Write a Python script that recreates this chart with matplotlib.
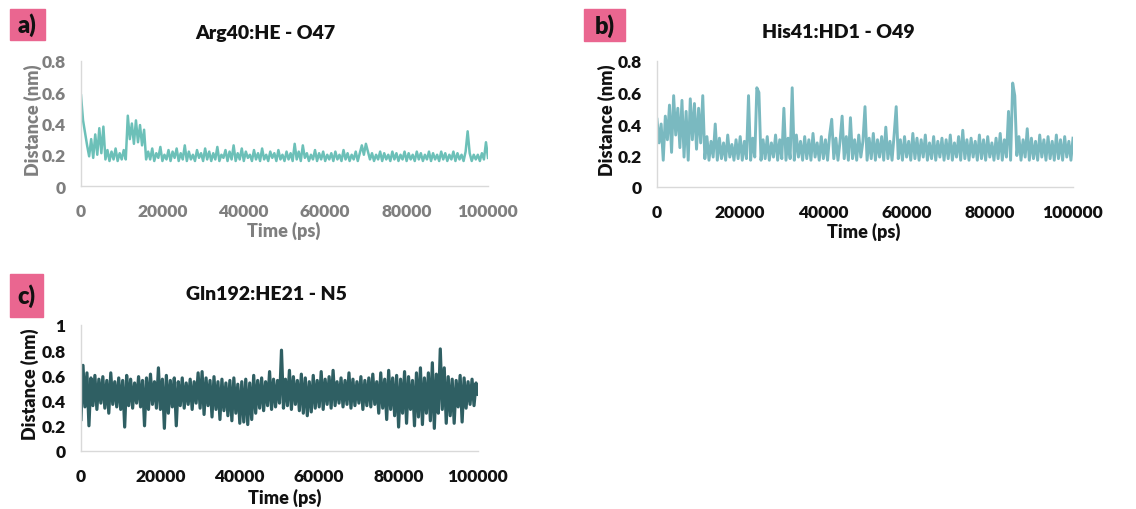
import numpy as np
import matplotlib
matplotlib.use("Agg")
import matplotlib.pyplot as plt
from matplotlib.patches import Rectangle

plt.rcParams['font.family'] = ['Lato', 'DejaVu Sans']

# time axis (ps), one sample every 500 ps
time_ps = np.linspace(0, 100000, 201)

# a) Arg40:HE - O47 distance (nm)
arg40_he_o47 = [
    0.58, 0.42, 0.34, 0.26, 0.19, 0.30, 0.18, 0.33, 0.20, 0.37,
    0.21, 0.38, 0.17, 0.23, 0.16, 0.22, 0.17, 0.24, 0.16, 0.21,
    0.17, 0.23, 0.17, 0.45, 0.30, 0.40, 0.27, 0.42, 0.28, 0.39,
    0.26, 0.36, 0.17,
    0.22, 0.17, 0.24, 0.16, 0.21, 0.18, 0.25, 0.16, 0.20, 0.17,
    0.23, 0.16, 0.22, 0.18, 0.24, 0.16, 0.21, 0.17, 0.26, 0.16,
    0.22, 0.17, 0.20, 0.16, 0.23, 0.18, 0.21, 0.16, 0.24, 0.17,
    0.22, 0.16, 0.21, 0.17, 0.25, 0.16, 0.20, 0.18, 0.23, 0.16,
    0.22, 0.17, 0.26, 0.16, 0.21, 0.17, 0.24, 0.16, 0.22, 0.18,
    0.20, 0.16, 0.23, 0.17, 0.21, 0.16, 0.24, 0.17, 0.20, 0.16,
    0.22, 0.18, 0.21, 0.16, 0.23, 0.17, 0.20, 0.16, 0.22, 0.17,
    0.21, 0.16, 0.27, 0.17, 0.22, 0.16, 0.26, 0.18, 0.21, 0.16,
    0.20, 0.17, 0.23, 0.16, 0.21, 0.17, 0.22, 0.16, 0.20, 0.17,
    0.21, 0.16, 0.22, 0.17, 0.20, 0.16, 0.23, 0.17, 0.21, 0.16,
    0.20, 0.17, 0.22, 0.16, 0.21, 0.26, 0.20, 0.27, 0.22, 0.17,
    0.21, 0.16, 0.20, 0.17, 0.22, 0.16, 0.21, 0.17, 0.20, 0.16,
    0.22, 0.17, 0.21, 0.16, 0.20, 0.17, 0.22, 0.16, 0.21, 0.17,
    0.20, 0.16, 0.22, 0.17, 0.21, 0.16, 0.20, 0.17, 0.22, 0.16,
    0.21, 0.17, 0.20, 0.16, 0.22, 0.17, 0.21, 0.16, 0.20, 0.17,
    0.22, 0.16, 0.21, 0.17, 0.20, 0.16, 0.22, 0.35, 0.21, 0.16,
    0.20, 0.17, 0.20, 0.16, 0.21, 0.17, 0.28, 0.18,
]

# b) His41:HD1 - O49 distance (nm)
his41_hd1_o49 = [
    0.43, 0.28, 0.40, 0.17,
    0.45, 0.30, 0.52, 0.22, 0.58, 0.33, 0.50, 0.25, 0.55, 0.19,
    0.48, 0.17, 0.56, 0.30, 0.53, 0.24, 0.50, 0.28, 0.58,
    0.18, 0.32, 0.17, 0.29, 0.19, 0.40, 0.17, 0.31, 0.18, 0.28,
    0.17, 0.33, 0.19, 0.27, 0.17, 0.30, 0.18, 0.32, 0.17, 0.29,
    0.18, 0.58, 0.17, 0.31, 0.19, 0.63, 0.60, 0.17, 0.30, 0.18,
    0.32, 0.17, 0.28, 0.19, 0.33, 0.17, 0.30, 0.18, 0.50, 0.17,
    0.31, 0.18, 0.63, 0.17, 0.33, 0.19, 0.29, 0.17, 0.32, 0.18,
    0.30, 0.17, 0.34, 0.19, 0.28, 0.17, 0.32, 0.18, 0.30, 0.17,
    0.33, 0.43, 0.18, 0.31, 0.17, 0.29, 0.45, 0.18, 0.32, 0.17,
    0.44, 0.18, 0.30, 0.17, 0.33, 0.19, 0.29, 0.51, 0.17, 0.31,
    0.18, 0.34, 0.17, 0.30, 0.19, 0.32, 0.17, 0.38, 0.18, 0.29,
    0.17, 0.33, 0.51, 0.18, 0.30, 0.17, 0.32, 0.19, 0.29, 0.17,
    0.34, 0.18, 0.31, 0.17, 0.30, 0.19, 0.33, 0.17, 0.28, 0.18,
    0.32, 0.17, 0.29, 0.19, 0.31, 0.17, 0.30, 0.18, 0.33, 0.17,
    0.28, 0.19, 0.32, 0.17, 0.36, 0.18, 0.30, 0.17, 0.31, 0.19,
    0.29, 0.17, 0.33, 0.18, 0.30, 0.17, 0.32, 0.19, 0.28, 0.17,
    0.31, 0.18, 0.34, 0.17, 0.30, 0.19, 0.48, 0.17, 0.66, 0.58,
    0.20, 0.32, 0.17, 0.30, 0.19, 0.37, 0.17, 0.31, 0.18, 0.29,
    0.17, 0.33, 0.19, 0.30, 0.17, 0.32, 0.18, 0.29, 0.17, 0.33,
    0.18, 0.30, 0.17, 0.32, 0.19, 0.29, 0.17, 0.31,
]

# c) Gln192:HE21 - N5 distance (nm)
gln192_he21_n5 = [
    0.25, 0.68, 0.35, 0.62, 0.20, 0.58, 0.36, 0.60, 0.33, 0.57,
    0.38, 0.59, 0.34, 0.56, 0.30, 0.62, 0.37, 0.55, 0.35, 0.58,
    0.33, 0.56, 0.19, 0.60, 0.36, 0.57, 0.34, 0.54, 0.38, 0.59,
    0.35, 0.56, 0.20, 0.58, 0.33, 0.61, 0.37, 0.55, 0.34, 0.66,
    0.33, 0.57, 0.18, 0.60, 0.30, 0.56, 0.35, 0.58, 0.20, 0.55,
    0.36, 0.58, 0.34, 0.54, 0.37, 0.57, 0.33, 0.55, 0.38, 0.62,
    0.34, 0.63, 0.29, 0.58, 0.36, 0.56, 0.27, 0.59, 0.33, 0.55,
    0.25, 0.57, 0.32, 0.54, 0.28, 0.56, 0.24, 0.58, 0.30, 0.53,
    0.22, 0.55, 0.23, 0.57, 0.21, 0.54, 0.25, 0.60, 0.30, 0.56,
    0.34, 0.58, 0.32, 0.55, 0.36, 0.63, 0.33, 0.57, 0.35, 0.56,
    0.38, 0.80, 0.34, 0.57, 0.36, 0.64, 0.33, 0.59, 0.37, 0.56,
    0.32, 0.61, 0.30, 0.58, 0.28, 0.55, 0.31, 0.60, 0.34, 0.56,
    0.35, 0.63, 0.33, 0.57, 0.37, 0.59, 0.34, 0.64, 0.36, 0.55,
    0.38, 0.58, 0.35, 0.56, 0.37, 0.62, 0.34, 0.57, 0.36, 0.55,
    0.38, 0.59, 0.33, 0.56, 0.36, 0.58, 0.35, 0.61, 0.37, 0.55,
    0.30, 0.62, 0.34, 0.57, 0.25, 0.64, 0.33, 0.58, 0.28, 0.60,
    0.19, 0.57, 0.30, 0.63, 0.22, 0.59, 0.33, 0.56, 0.20, 0.62,
    0.27, 0.66, 0.21, 0.58, 0.30, 0.62, 0.24, 0.70, 0.18, 0.61,
    0.30, 0.81, 0.33, 0.66, 0.22, 0.59, 0.28, 0.57, 0.22, 0.56,
    0.35, 0.60, 0.23, 0.58, 0.34, 0.55, 0.37, 0.57, 0.36, 0.54,
    0.45,
]

x_ticks = [0, 20000, 40000, 60000, 80000, 100000]
W, H = 1136, 510
fig = plt.figure(figsize=(W / 100, H / 100), dpi=100)


def px(x0, y0, x1, y1):
    # pixel box -> figure fraction [left, bottom, width, height]
    return [x0 / W, 1 - y1 / H, (x1 - x0) / W, (y1 - y0) / H]


def panel(box, y, color, lw, ymax, yticks, ylabs, txtcol):
    ax = fig.add_axes(px(*box))
    ax.plot(time_ps, y, color=color, lw=lw, solid_joinstyle='round')
    ax.set_xlim(0, 100000)
    ax.set_ylim(0, ymax)
    ax.set_xticks(x_ticks)
    ax.set_xticklabels([str(t) for t in x_ticks])
    ax.set_yticks(yticks)
    ax.set_yticklabels(ylabs)
    for s in ['top', 'right']:
        ax.spines[s].set_visible(False)
    for s in ['left', 'bottom']:
        ax.spines[s].set_color('#d9d9d9')
        ax.spines[s].set_linewidth(1.0)
    ax.tick_params(length=0, labelsize=12.5, colors=txtcol)
    ax.tick_params(axis='x', pad=12)
    ax.tick_params(axis='y', pad=11)
    for lab in ax.get_xticklabels() + ax.get_yticklabels():
        lab.set_fontweight('heavy')
    return ax


def tag(x0, y0, x1, y1, s):
    fig.patches.append(Rectangle((x0 / W, 1 - y1 / H), (x1 - x0) / W, (y1 - y0) / H,
                                 transform=fig.transFigure, color='#ea6690', zorder=0))
    fig.text((x0 + x1) / 2 / W, 1 - (y0 + y1) / 2 / H, s, ha='center', va='center',
             fontsize=17, fontweight='heavy', color='#111111')


def ftext(x, y, s, col, rot=0, size=13):
    fig.text(x / W, 1 - y / H, s, ha='center', va='center', rotation=rot,
             fontsize=size, fontweight='heavy', color=col)


# a)
panel((81, 62, 488, 187), arg40_he_o47, '#6cc0b8', 1.8, 0.8,
      [0, 0.2, 0.4, 0.6, 0.8], ['0', '0.2', '0.4', '0.6', '0.8'], '#7f7f7f')
tag(10, 10, 45, 41, 'a)')
ftext(265, 33, 'Arg40:HE - O47', '#111111', size=14)
ftext(33, 120, 'Distance (nm)', '#7f7f7f', rot=90)
ftext(284, 231, 'Time (ps)', '#7f7f7f')

# b)
panel((657, 62, 1073, 188), his41_hd1_o49, '#7ab9c0', 2.1, 0.8,
      [0, 0.2, 0.4, 0.6, 0.8], ['0', '0.2', '0.4', '0.6', '0.8'], '#111111')
tag(584, 10, 625, 42, 'b)')
ftext(838, 33, 'His41:HD1 - O49', '#111111', size=14)
ftext(607, 120, 'Distance (nm)', '#111111', rot=90)
ftext(864, 232, 'Time (ps)', '#111111')

# c)
panel((81, 326, 478, 452), gln192_he21_n5, '#2f5f63', 2.3, 1.0,
      [0, 0.2, 0.4, 0.6, 0.8, 1.0], ['0', '0.2', '0.4', '0.6', '0.8', '1'], '#111111')
tag(10, 275, 43, 318, 'c)')
ftext(266, 295, 'Gln192:HE21 - N5', '#111111', size=14)
ftext(30, 384, 'Distance (nm)', '#111111', rot=90)
ftext(285, 498, 'Time (ps)', '#111111')

fig.savefig('out.png', dpi=100, facecolor='white')
